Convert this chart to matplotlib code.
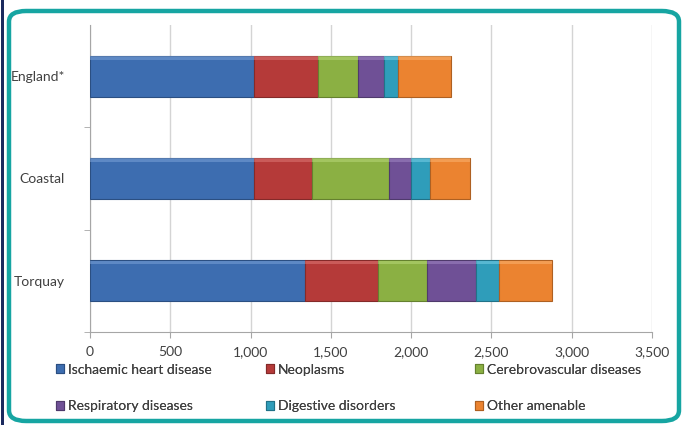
import matplotlib
matplotlib.use("Agg")
import matplotlib.pyplot as plt
from matplotlib.patches import FancyBboxPatch, Rectangle
from matplotlib.ticker import FuncFormatter
import numpy as np

plt.rcParams["font.family"] = ["Lato", "DejaVu Sans"]

regions = ["England*", "Coastal", "Torquay"]
causes = ["Ischaemic heart disease", "Neoplasms", "Cerebrovascular diseases",
          "Respiratory diseases", "Digestive disorders", "Other amenable"]

# rates per cause, one list per region order above
ischaemic = [1022, 1022, 1341]
neoplasms = [400, 362, 455]
cerebro = [245, 480, 301]
respiratory = [164, 136, 305]
digestive = [89, 117, 145]
other = [326, 249, 333]

series = [ischaemic, neoplasms, cerebro, respiratory, digestive, other]
colors = ["#3D6DB0", "#B53A39", "#8BB043", "#6F5096", "#2F9DBA", "#EB8330"]
edges = ["#2B4F82", "#842A29", "#65812F", "#4F3A6C", "#217288", "#AE6022"]
highlights = ["#7FA6DA", "#E07C7A", "#BCDB7E", "#A48BC6", "#7FD3EA", "#FBB877"]

xticks = [0, 500, 1000, 1500, 2000, 2500, 3000, 3500]

fig = plt.figure(figsize=(6.84, 4.25), dpi=100)
fig.patch.set_facecolor("white")

# teal rounded frame + navy edge on the left
frame = FancyBboxPatch((9 / 684, 4 / 425), 670 / 684, 410 / 425,
                       boxstyle="round,pad=0,rounding_size=0.025",
                       transform=fig.transFigure, facecolor="none",
                       edgecolor="#16A5A2", linewidth=3.2, zorder=0)
fig.patches.append(frame)
fig.patches.append(Rectangle((1 / 684, 0), 3 / 684, 1, transform=fig.transFigure,
                             facecolor="#1B2A5E", edgecolor="none", zorder=1))

ax = fig.add_axes([90 / 684, 1 - 332 / 425, 562 / 684, 307 / 425])
ax.set_facecolor("none")

y = np.arange(len(regions))
left = np.zeros(len(regions))
bar_h = 0.4
handles = []
for vals, c, e, h, name in zip(series, colors, edges, highlights, causes):
    vals = np.array(vals, dtype=float)
    b = ax.barh(y, vals, left=left, height=bar_h, color=c, edgecolor=e,
                linewidth=0.8, zorder=3, label=name)
    # bevel highlight on top edge
    ax.barh(y - bar_h / 2 + 0.02, vals, left=left, height=0.035, color=h,
            edgecolor="none", alpha=0.5, zorder=4)
    handles.append(b)
    left += vals

ax.set_xlim(0, 3500)
ax.set_ylim(2.5, -0.5)
ax.set_xticks(xticks)
ax.xaxis.set_major_formatter(FuncFormatter(lambda v, p: f"{int(v):,}"))
ax.set_yticks(y)
ax.set_yticklabels(regions)
ax.set_yticks([0.5, 1.5, 2.5], minor=True)
ax.tick_params(axis="y", which="major", length=0, pad=18, labelsize=10,
               labelcolor="#404040")
ax.tick_params(axis="y", which="minor", length=4, color="#A6A6A6")
ax.tick_params(axis="x", length=4, color="#A6A6A6", labelsize=10,
               labelcolor="#404040", pad=6)
ax.grid(axis="x", color="#D4D4D4", linewidth=1, zorder=0)
for s in ["top", "right"]:
    ax.spines[s].set_visible(False)
for s in ["left", "bottom"]:
    ax.spines[s].set_color("#A6A6A6")

# legend: three evenly spaced columns, rows read left to right
col_x = [56, 266, 475]
for k, x0 in enumerate(col_x):
    idx = [k, k + 3]
    leg = fig.legend([handles[i] for i in idx], [causes[i] for i in idx],
                     loc="lower left", bbox_to_anchor=(x0 / 684, 13 / 425),
                     frameon=False, fontsize=10, handlelength=0.6,
                     handleheight=0.6, handletextpad=0.25, labelspacing=1.75,
                     borderaxespad=0, borderpad=0)
    for t in leg.get_texts():
        t.set_color("#404040")
    fig.add_artist(leg)

fig.savefig("out.png", dpi=100)
